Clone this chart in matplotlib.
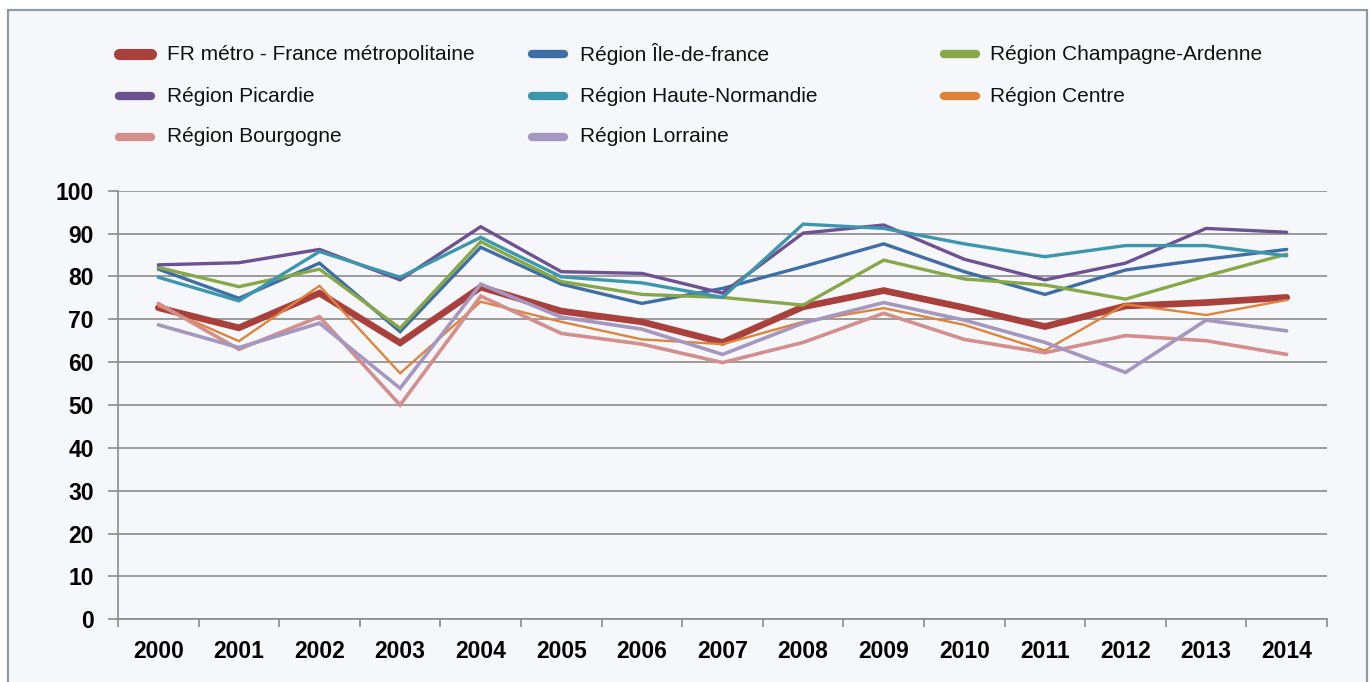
import matplotlib
matplotlib.use("Agg")
import matplotlib.pyplot as plt
from matplotlib.lines import Line2D
from matplotlib.patches import Rectangle
from matplotlib import font_manager as fm
import numpy as np

years = [str(y) for y in range(2000, 2015)]

series_names = [
    "FR métro - France métropolitaine",
    "Région Île-de-france",
    "Région Champagne-Ardenne",
    "Région Picardie",
    "Région Haute-Normandie",
    "Région Centre",
    "Région Bourgogne",
    "Région Lorraine",
]

fr_metro = [72.7, 68.0, 76.1, 64.5, 77.5, 71.9, 69.4, 64.6, 72.9, 76.7, 72.7, 68.3, 73.1, 73.9, 75.1]
ile_de_france = [81.7, 74.9, 83.1, 67.1, 86.8, 78.2, 73.7, 77.2, 82.3, 87.6, 81.1, 75.8, 81.5, 84.0, 86.3]
champagne = [82.1, 77.6, 81.7, 67.9, 88.1, 78.8, 75.8, 75.1, 73.3, 83.8, 79.4, 78.0, 74.7, 80.1, 85.2]
picardie = [82.7, 83.2, 86.3, 79.2, 91.6, 81.1, 80.7, 76.1, 90.1, 92.0, 84.0, 79.2, 83.1, 91.2, 90.3]
haute_normandie = [79.8, 74.3, 85.8, 79.8, 89.1, 79.9, 78.5, 75.1, 92.2, 91.2, 87.6, 84.6, 87.2, 87.2, 84.8]
centre = [73.1, 64.9, 77.8, 57.4, 74.1, 69.4, 65.3, 64.2, 69.4, 72.6, 68.7, 62.7, 73.5, 71.0, 74.5]
bourgogne = [73.7, 63.0, 70.6, 50.0, 75.4, 66.7, 64.2, 59.9, 64.6, 71.4, 65.3, 62.2, 66.2, 65.0, 61.8]
lorraine = [68.7, 63.4, 69.1, 53.9, 78.2, 70.5, 67.7, 61.8, 69.1, 73.9, 69.8, 64.6, 57.6, 69.8, 67.3]

y_ticks = [0, 10, 20, 30, 40, 50, 60, 70, 80, 90, 100]

all_series = [fr_metro, ile_de_france, champagne, picardie, haute_normandie, centre, bourgogne, lorraine]
colors = ["#A9403C", "#3F6EA7", "#86A846", "#6D5191", "#3C97AE", "#E0833A", "#D48E8C", "#A597BF"]
widths = [4.8, 2.4, 2.4, 2.4, 2.4, 1.7, 2.6, 2.6]


def has_font(name):
    try:
        fm.findfont(fm.FontProperties(family=name), fallback_to_default=False)
        return True
    except Exception:
        return False


if has_font("Liberation Sans Narrow"):
    FONT = "Liberation Sans Narrow"
    tick_fs, leg_fs = 19, 17
elif has_font("Liberation Sans"):
    FONT = "Liberation Sans"
    tick_fs, leg_fs = 16.5, 15
else:
    FONT = "DejaVu Sans"
    tick_fs, leg_fs = 14, 13.5
plt.rcParams["font.family"] = [FONT, "DejaVu Sans"]

W, H = 1370, 682
fig = plt.figure(figsize=(W / 100, H / 100), dpi=100)
fig.patch.set_facecolor("white")

# outer frame
frame = Rectangle((8 / W, -0.05), (1367 - 8) / W, 1 - 10 / H + 0.05,
                  transform=fig.transFigure, facecolor="#F5F7FA",
                  edgecolor="#8E9BA5", linewidth=1.6, zorder=-10)
fig.patches.append(frame)

left, right, top, bottom = 118, 1327, 190.7, 619.3
ax = fig.add_axes([left / W, 1 - bottom / H, (right - left) / W, (bottom - top) / H])
ax.set_zorder(5)
ax.set_facecolor("none")

x = np.arange(len(years))
for i in range(len(all_series)):
    ax.plot(x, all_series[i], color=colors[i], lw=widths[i], solid_joinstyle="miter",
            solid_capstyle="round", zorder=3 + i)

ax.set_xlim(-0.5, len(years) - 0.5)
ax.set_ylim(0, 100)
ax.set_yticks(y_ticks)
ax.set_yticklabels([str(v) for v in y_ticks], fontsize=tick_fs, fontweight="bold")
ax.set_xticks(x)
ax.set_xticklabels(years, fontsize=tick_fs, fontweight="bold")
ax.set_xticks(np.arange(-0.5, len(years), 1.0), minor=True)
ax.tick_params(axis="x", which="major", length=0, pad=15)
ax.tick_params(axis="x", which="minor", length=6, width=1.2, color="#8C8C8C", direction="out")
ax.tick_params(axis="y", length=7, width=1.2, color="#8C8C8C", pad=10.5)
ax.grid(axis="y", color="#8C8C8C", lw=1.2, zorder=1)
ax.set_axisbelow(True)
for s in ["top", "right"]:
    ax.spines[s].set_visible(False)
for s in ["left", "bottom"]:
    ax.spines[s].set_color("#8C8C8C")
    ax.spines[s].set_linewidth(1.2)

# legend (row-major layout)
rows_y = [54, 96, 137]
cols = [(115, 155, 167), (528, 568, 580), (940, 980, 990)]
for i, name in enumerate(series_names):
    r, c = divmod(i, 3)
    hx0, hx1, tx = cols[c]
    yy = 1 - rows_y[r] / H
    lw = 8 if i == 0 else 6
    fig.add_artist(Line2D([(hx0 + 4) / W, (hx1 - 4) / W], [yy, yy], transform=fig.transFigure,
                          color=colors[i], lw=lw, solid_capstyle="round"))
    fig.text(tx / W, yy, name, fontsize=leg_fs, va="center", ha="left", color="#111111")

fig.savefig("out.png", dpi=100, facecolor="white")
